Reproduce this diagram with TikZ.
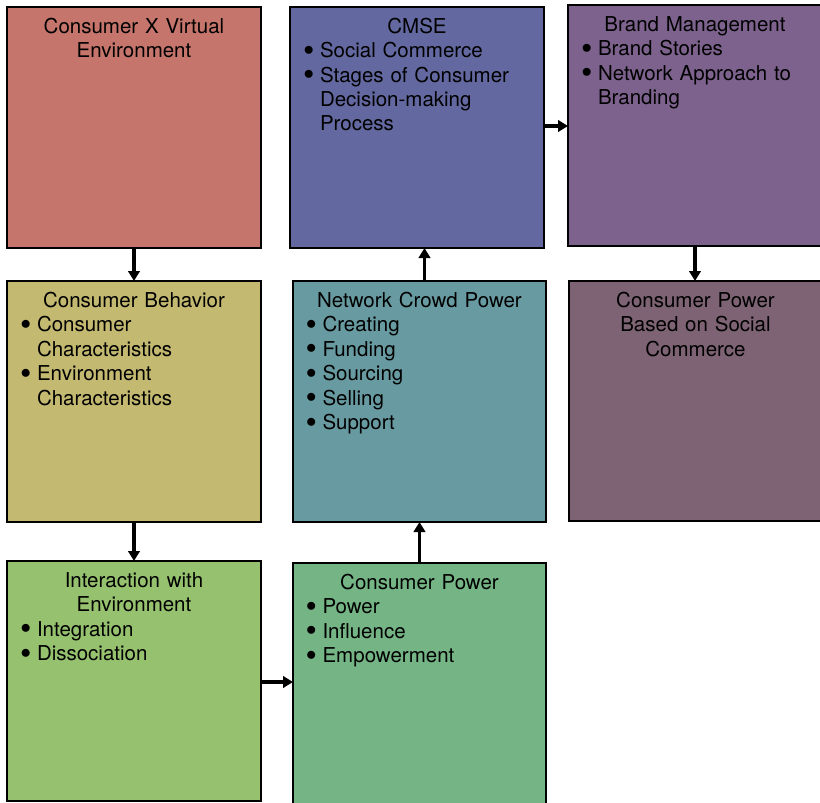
\documentclass[tikz,border=0pt]{standalone}
\usepackage{fontspec}
\setmainfont{TeX Gyre Heros}
\usetikzlibrary{arrows.meta}

\definecolor{cRed}{RGB}{197,117,107}
\definecolor{cBlue}{RGB}{99,105,160}
\definecolor{cPurple}{RGB}{124,98,141}
\definecolor{cOlive}{RGB}{196,185,112}
\definecolor{cTeal}{RGB}{104,155,161}
\definecolor{cMauve}{RGB}{125,99,115}
\definecolor{cLime}{RGB}{150,194,111}
\definecolor{cGreen}{RGB}{117,181,133}

% bulleted entry with hanging indent; the paragraph is closed inside the macro
\newcommand\bulletmark{\raisebox{2.3pt}{$\bullet$}}
\newcommand\bulletitem[1]{\par\hangindent=16pt\hangafter=1\noindent\makebox[16pt][l]{\hspace{-0.5pt}\bulletmark}#1\par}
\newcommand\boxtitle[1]{{\centering #1\par}}

\tikzset{
  card/.style={draw=black, line width=1.3pt, inner sep=0pt, outer sep=0pt,
               minimum width=254pt, minimum height=241pt},
  cardtext/.style={anchor=base, inner sep=0pt, text width=226pt, align=left,
               font=\fontsize{20.5}{24.5}\selectfont},
  flow/.style={line width=3.2pt, -{Triangle[length=10pt,width=11.5pt]}},
}

\begin{document}
\begin{tikzpicture}[x=1pt,y=-1pt]
\useasboundingbox (0,0) rectangle (820,803);
\fill[white] (0,0) rectangle (820,803);
\clip (0,0) rectangle (820,803);

% boxes
\node[card, fill=cRed] (cve) at (134,127.5) {};
\node[card, fill=cBlue] (cmse) at (417,127.5) {};
\node[card, fill=cPurple] (brand) at (695,125.5) {};
\node[card, fill=cOlive] (behav) at (134,401.5) {};
\node[card, fill=cTeal, minimum width=253pt] (crowd) at (419.5,401.5) {};
\node[card, fill=cMauve, minimum width=253pt, minimum height=240pt] (cpsoc) at (695.5,401) {};
\node[card, fill=cLime, minimum height=240pt] (inter) at (134,681) {};
\node[card, fill=cGreen, minimum width=253pt, minimum height=242pt] (cpow) at (419.5,684) {};

% texts
\node[cardtext] (tcve) at ([yshift=-26pt]cve.north)
  {\boxtitle{Consumer X Virtual\\Environment}};
\node[cardtext] (tcmse) at ([yshift=-26pt]cmse.north)
  {\boxtitle{CMSE}\bulletitem{Social Commerce}\bulletitem{Stages of Consumer\newline Decision-making\newline Process}};
\node[cardtext] (tbrand) at ([yshift=-26pt]brand.north)
  {\boxtitle{Brand Management}\bulletitem{Brand Stories}\bulletitem{Network Approach to\newline Branding}};
\node[cardtext] (tbehav) at ([yshift=-26pt]behav.north)
  {\boxtitle{Consumer Behavior}\bulletitem{Consumer\newline Characteristics}\bulletitem{Environment\newline Characteristics}};
\node[cardtext] (tcrowd) at ([yshift=-26pt]crowd.north)
  {\boxtitle{Network Crowd Power}\bulletitem{Creating}\bulletitem{Funding}\bulletitem{Sourcing}\bulletitem{Selling}\bulletitem{Support}};
\node[cardtext] (tcpsoc) at ([yshift=-26pt]cpsoc.north)
  {\boxtitle{Consumer Power\\Based on Social\\Commerce}};
\node[cardtext] (tinter) at ([yshift=-26pt]inter.north)
  {\boxtitle{Interaction with\\Environment}\bulletitem{Integration}\bulletitem{Dissociation}};
\node[cardtext] (tcpow) at ([yshift=-26pt]cpow.north)
  {\boxtitle{Consumer Power}\bulletitem{Power}\bulletitem{Influence}\bulletitem{Empowerment}};

% connectors
\draw[flow] (cve.south) -- (behav.north);
\draw[flow] (behav.south) -- (inter.north);
\draw[flow] (inter.east |- 0,682) -- (cpow.west |- 0,682);
\draw[flow] (cpow.north) -- (crowd.south);
\draw[flow] ([xshift=5pt]crowd.north) -- ([xshift=5pt]crowd.north |- cmse.south);
\draw[flow] (cmse.east |- 0,126) -- (brand.west |- 0,126);
\draw[flow] (brand.south) -- (brand.south |- cpsoc.north);
\end{tikzpicture}
\end{document}
